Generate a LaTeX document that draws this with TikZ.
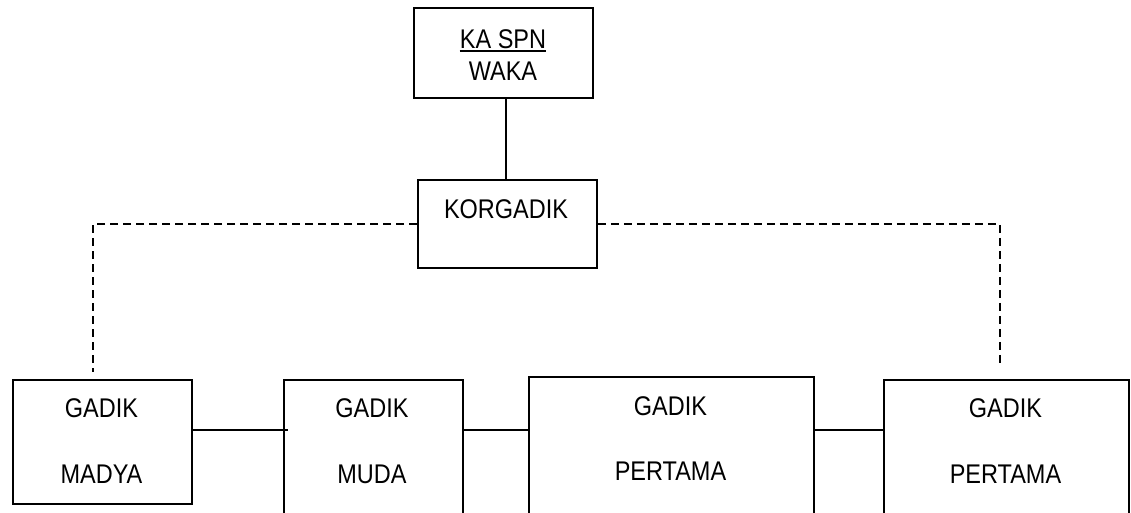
\documentclass[tikz,border=0pt]{standalone}
\usepackage{fontspec}
\setmainfont{Liberation Sans}[FakeStretch=0.87]
\begin{document}
\begin{tikzpicture}[x=1pt,y=-1pt,
  boxst/.style={draw, line width=1.9pt, inner sep=0pt, anchor=north west},
  txt/.style={inner sep=0pt, anchor=base, font=\fontsize{27}{32}\selectfont},
  solidcon/.style={line width=1.9pt},
  dashcon/.style={line width=1.9pt, dash pattern=on 8pt off 5pt}]
\useasboundingbox (0,0) rectangle (1131,512);
\begin{scope}
\clip (0,0) rectangle (1131,512);
% boxes
\node[boxst, minimum width=179pt, minimum height=90pt] (top) at (413,7) {};
\node[boxst, minimum width=179pt, minimum height=88pt] (kor) at (417,179) {};
\node[boxst, minimum width=179pt, minimum height=124pt] (b1) at (12,379) {};
\node[boxst, minimum width=179pt, minimum height=160pt] (b2) at (283,379) {};
\node[boxst, minimum width=285pt, minimum height=160pt] (b3) at (528,376) {};
\node[boxst, minimum width=245pt, minimum height=160pt] (b4) at (883,379) {};
% texts
\node[txt] (ka) at (503,48) {KA SPN};
\draw[line width=2pt] ([yshift=-3pt]ka.base west) -- ([yshift=-3pt]ka.base east);
\node[txt] (waka) at (503,80) {WAKA};
\node[txt] (kort) at (506,218) {KORGADIK};
\node[txt] (g1) at (101.5,417) {GADIK};
\node[txt] (m1) at (101.5,483) {MADYA};
\node[txt] (g2) at (372,417) {GADIK};
\node[txt] (m2) at (372,483) {MUDA};
\node[txt] (g3) at (670.5,415) {GADIK};
\node[txt] (m3) at (670.5,480) {PERTAMA};
\node[txt] (g4) at (1005.5,417) {GADIK};
\node[txt] (m4) at (1005.5,483) {PERTAMA};
% connectors
\coordinate (vtop) at (506,97);
\coordinate (vbot) at (506,179);
\draw[solidcon] (vtop) -- (vbot);
\coordinate (dl) at (93,224);
\coordinate (dle) at (93,372);
\coordinate (dr) at (1000,224);
\coordinate (dre) at (1000,366);
\draw[dashcon] (kor.west |- dl) -- (dl) -- (dle);
\draw[dashcon] (kor.east |- dr) -- (dr) -- (dre);
\coordinate (c12) at (288,430);
\draw[solidcon] (b1.east |- c12) -- (c12);
\draw[solidcon] (b2.east |- c12) -- (b3.west |- c12);
\draw[solidcon] (b3.east |- c12) -- (b4.west |- c12);
\end{scope}
\end{tikzpicture}
\end{document}
